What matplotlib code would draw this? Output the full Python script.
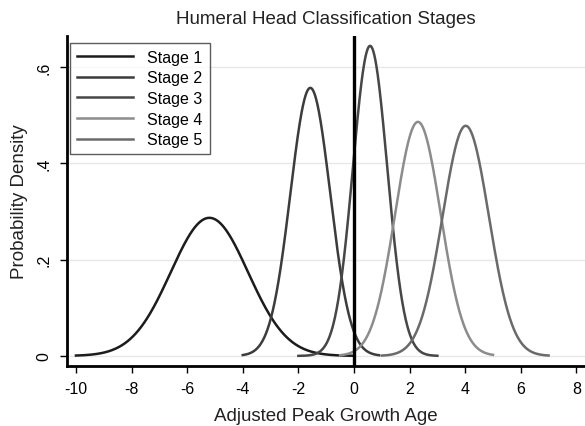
import numpy as np
import matplotlib
matplotlib.use("Agg")
import matplotlib.pyplot as plt

plt.rcParams['font.family'] = ['Liberation Sans', 'DejaVu Sans']

# Data: normal density curves per stage (mean, sd, plotted range)
stages = ["Stage 1", "Stage 2", "Stage 3", "Stage 4", "Stage 5"]
means = [-5.2, -1.57, 0.58, 2.3, 4.02]
sds = [1.39, 0.716, 0.619, 0.82, 0.834]
x_starts = [-10.0, -4.0, -2.0, -0.5, 1.0]
x_ends = [0.0, 0.9, 3.0, 5.0, 7.0]
colors = ["#1c1c1c", "#3c3c3c", "#474747", "#8c8c8c", "#6a6a6a"]

xticks = [-10, -8, -6, -4, -2, 0, 2, 4, 6, 8]
yticks = [0, 0.2, 0.4, 0.6]
ytick_labels = ["0", ".2", ".4", ".6"]

fig = plt.figure(figsize=(5.85, 4.27), dpi=100)
ax = fig.add_axes([66.5/585, 1 - 367/427, 1 - 66.5/585, (367 - 37)/427])

for name, m, s, a, b, c in zip(stages, means, sds, x_starts, x_ends, colors):
    x = np.linspace(a, b, 400)
    y = np.exp(-0.5 * ((x - m) / s) ** 2) / (s * np.sqrt(2 * np.pi))
    ax.plot(x, y, color=c, lw=1.8, label=name)

ax.axvline(0, color="black", lw=2.4)

ax.set_xlim(-10.34, 8.31)
ax.set_ylim(-0.021, 0.665)
ax.set_xticks(xticks)
ax.set_xticklabels([str(t) for t in xticks], fontsize=11.5)
ax.set_yticks(yticks)
ax.set_yticklabels(ytick_labels, fontsize=11.5, rotation=90, va="center")
ax.yaxis.grid(True, color="#e8e8e8", lw=1)
ax.set_axisbelow(True)
ax.tick_params(direction="out", length=5, width=1, color="black", pad=6)

for sp in ["top", "right"]:
    ax.spines[sp].set_visible(False)
for sp in ["left", "bottom"]:
    ax.spines[sp].set_linewidth(2)

ax.set_title("Humeral Head Classification Stages", fontsize=13.5, color="#222222", pad=9)
ax.set_xlabel("Adjusted Peak Growth Age", fontsize=13.5, color="#222222", labelpad=8)
ax.set_ylabel("Probability Density", fontsize=13.5, color="#222222", labelpad=6)

leg = ax.legend(loc="upper left", bbox_to_anchor=(0.003, 0.985), fontsize=11.5,
                frameon=True, fancybox=False, edgecolor="#333333",
                handlelength=3.5, handletextpad=0.9, labelspacing=0.35,
                borderpad=0.45, borderaxespad=0.1)
leg.get_frame().set_linewidth(1)

fig.savefig("out.png", dpi=100)
